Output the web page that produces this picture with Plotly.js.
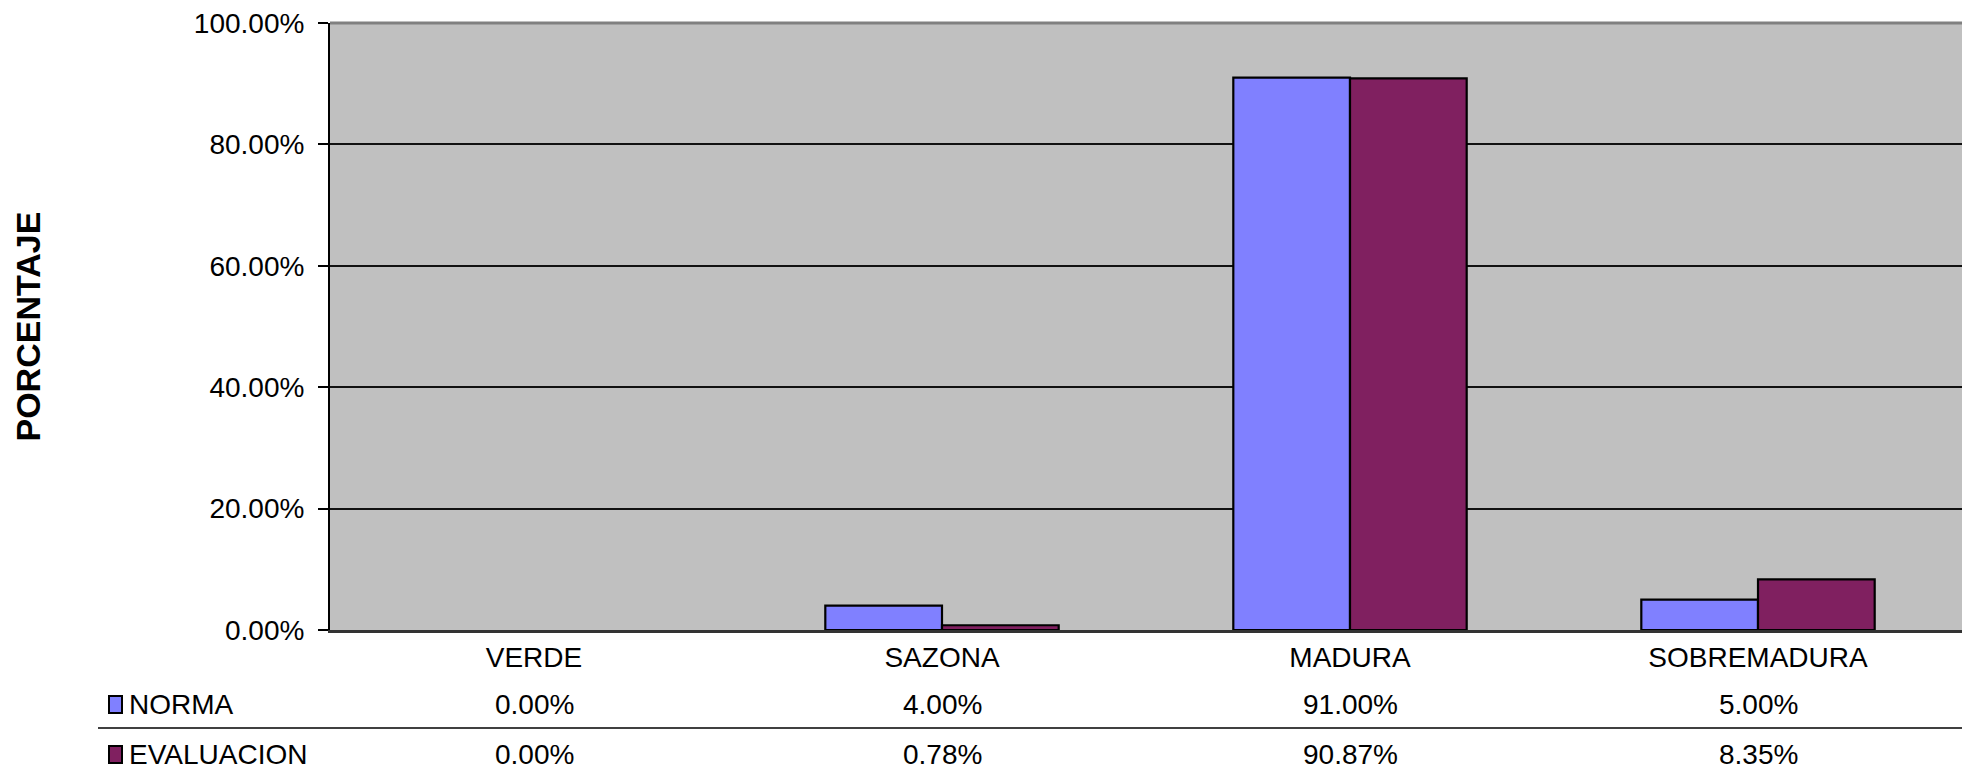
<!DOCTYPE html>
<html>
<head>
<meta charset="utf-8">
<script src="https://cdn.plot.ly/plotly-3.0.1.min.js"></script>
<style>
  html, body { margin: 0; padding: 0; background: #ffffff; overflow: hidden; }
  #chart { width: 1962px; height: 771px; }
</style>
</head>
<body>
<div id="chart"></div>
<script>
// Maturity stages and percentages per series
const categories = ['VERDE', 'SAZONA', 'MADURA', 'SOBREMADURA'];
const normaValues = [0.00, 4.00, 91.00, 5.00];
const evaluacionValues = [0.00, 0.78, 90.87, 8.35];
const seriesNames = ['NORMA', 'EVALUACION'];
const yTickValues = [0, 20, 40, 60, 80, 100];
const yTickLabels = yTickValues.map(v => v.toFixed(2) + '%');
const yTitle = 'PORCENTAJE';

const colors = ['#8080FF', '#802060'];
const FONT = '"Liberation Sans", Arial, sans-serif';
const W = 1962, H = 771;
const M = { l: 330, r: 0, t: 23, b: 141 };
const plotW = W - M.l - M.r;
const plotH = H - M.t - M.b;

const series = [normaValues, evaluacionValues];

const traces = series.map((vals, i) => ({
  type: 'bar',
  name: seriesNames[i],
  x: categories,
  y: vals,
  marker: {
    color: colors[i],
    // empty bars get no outline
    line: { color: '#000000', width: vals.map(v => (v > 0 ? 2.2 : 0)) }
  },
  hoverinfo: 'skip'
}));

// Data table under the axis: one row per series
const rowOffsets = [74, 124];      // px below the x axis line
const separatorOffset = 98;        // px below the x axis line
const keyLeft = 109, textLeft = 127; // px from page left

const annotations = [];
const shapes = [];

// Vertical axis title, centred on the plot height
annotations.push({
  xref: 'paper', yref: 'paper', x: 0, y: 0.5,
  xanchor: 'center', yanchor: 'middle', xshift: 27 - M.l,
  textangle: -90, showarrow: false,
  text: '<b>' + yTitle + '</b>',
  font: { family: FONT, size: 34, color: '#000000' }
});

series.forEach((vals, i) => {
  vals.forEach((v, j) => {
    annotations.push({
      xref: 'x', yref: 'paper', x: categories[j], y: 0,
      yanchor: 'middle', xanchor: 'center', yshift: -rowOffsets[i],
      text: v.toFixed(2) + '%', showarrow: false,
      font: { family: FONT, size: 28, color: '#000000' }
    });
  });
  annotations.push({
    xref: 'paper', yref: 'paper', x: (textLeft - M.l) / plotW, y: 0,
    yanchor: 'middle', xanchor: 'left', yshift: -rowOffsets[i],
    text: seriesNames[i], showarrow: false,
    font: { family: FONT, size: 28, color: '#000000' }
  });
  shapes.push({
    type: 'rect', xref: 'paper', yref: 'paper',
    xsizemode: 'pixel', ysizemode: 'pixel',
    xanchor: 0, yanchor: 0,
    x0: keyLeft - M.l, x1: keyLeft - M.l + 13,
    y0: -rowOffsets[i] - 9, y1: -rowOffsets[i] + 8,
    fillcolor: colors[i], line: { color: '#000000', width: 2 }
  });
});

// Separator between the two table rows
shapes.push({
  type: 'line', xref: 'paper', yref: 'paper',
  x0: (98 - M.l) / plotW, x1: 1,
  y0: -separatorOffset / plotH, y1: -separatorOffset / plotH,
  line: { color: '#404040', width: 2 }
});

// Top border of the plot area
shapes.push({
  type: 'line', xref: 'paper', yref: 'paper',
  x0: 0, x1: 1, y0: 1, y1: 1,
  line: { color: '#808080', width: 3 }
});

const layout = {
  width: W, height: H,
  margin: M,
  paper_bgcolor: '#ffffff',
  plot_bgcolor: '#C0C0C0',
  showlegend: false,
  barmode: 'group',
  bargap: 0.428,
  bargroupgap: 0,
  font: { family: FONT, size: 28, color: '#000000' },
  xaxis: {
    type: 'category',
    range: [-0.5, 3.5],
    showgrid: false,
    showline: true, linecolor: '#333333', linewidth: 3,
    ticks: '',
    ticklabelstandoff: 0,
    tickfont: { family: FONT, size: 28, color: '#000000' },
    fixedrange: true
  },
  yaxis: {
    range: [0, 100],
    tickvals: yTickValues,
    ticktext: yTickLabels,
    showgrid: true, gridcolor: '#111111', gridwidth: 2,
    showline: true, linecolor: '#000000', linewidth: 2,
    ticks: 'outside', ticklen: 10, tickwidth: 2, tickcolor: '#000000',
    ticklabelstandoff: 8,
    zeroline: false,
    tickfont: { family: FONT, size: 28, color: '#000000' },
    fixedrange: true
  },
  annotations: annotations,
  shapes: shapes
};

Plotly.newPlot('chart', traces, layout, { staticPlot: true, displayModeBar: false });
</script>
</body>
</html>
